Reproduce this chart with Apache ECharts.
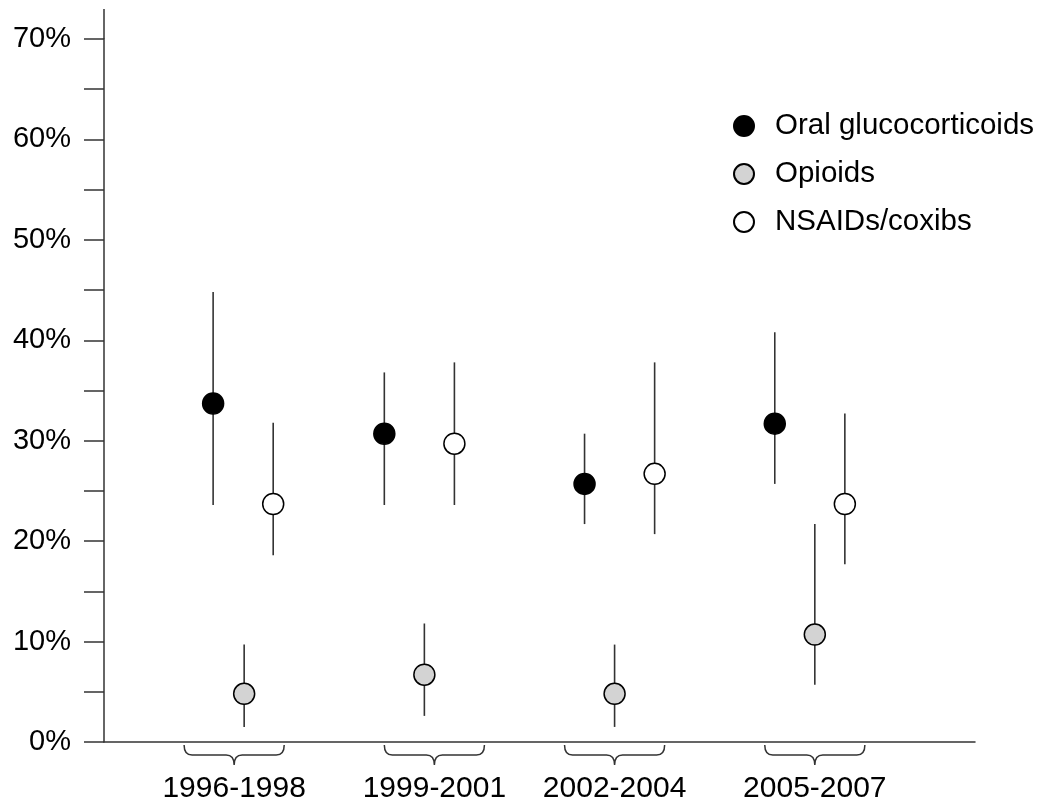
<!DOCTYPE html>
<html>
<head>
<meta charset="utf-8">
<script src="https://cdn.jsdelivr.net/npm/echarts@6/dist/echarts.min.js"></script>
<style>
html, body { margin: 0; padding: 0; background: #fff; }
#main { width: 1047px; height: 808px; }
</style>
</head>
<body>
<div id="main"></div>
<script>
// periods and where each bracket sits on the x axis
var periods = ['1996-1998', '1999-2001', '2002-2004', '2005-2007'];
var periodPos = [1.3, 3.3, 5.1, 7.1];
var bracketHalf = 0.5;

// x position of each series inside the groups
var glucoX = [1.09, 2.8, 4.8, 6.7];
var opioidX = [1.4, 3.2, 5.1, 7.1];
var nsaidX = [1.69, 3.5, 5.5, 7.4];

// percentages (point, lower, upper)
var glucoVal = [33.7, 30.7, 25.7, 31.7];
var glucoLow = [23.6, 23.6, 21.7, 25.7];
var glucoHigh = [44.8, 36.8, 30.7, 40.8];

var opioidVal = [4.8, 6.7, 4.8, 10.7];
var opioidLow = [1.5, 2.6, 1.5, 5.7];
var opioidHigh = [9.7, 11.8, 9.7, 21.7];

var nsaidVal = [23.7, 29.7, 26.7, 23.7];
var nsaidLow = [18.6, 23.6, 20.7, 17.7];
var nsaidHigh = [31.8, 37.8, 37.8, 32.7];

var FONT = '"Liberation Sans", Arial, sans-serif';

var myChart = echarts.init(document.getElementById('main'));

function pts(xs, vs) {
    return xs.map(function (x, i) { return [x, vs[i]]; });
}
function bars(xs, lo, hi) {
    return xs.map(function (x, i) { return [x, lo[i], hi[i]]; });
}

function renderBar(params, api) {
    var a = api.coord([api.value(0), api.value(1)]);
    var b = api.coord([api.value(0), api.value(2)]);
    return {
        type: 'line',
        shape: { x1: a[0], y1: a[1], x2: b[0], y2: b[1] },
        style: { stroke: '#333', lineWidth: 1.6 }
    };
}

function renderBracket(params, api) {
    var c = api.value(0);
    var p0 = api.coord([c - bracketHalf, 0]);
    var p1 = api.coord([c + bracketHalf, 0]);
    var pc = api.coord([c, 0]);
    var L = p0[0], R = p1[0], C = pc[0];
    var t = pc[1] + 3, m = pc[1] + 13, tip = pc[1] + 23;
    var path = 'M' + L + ' ' + t +
        ' Q' + L + ' ' + m + ' ' + (L + 8) + ' ' + m +
        ' L' + (C - 8) + ' ' + m +
        ' Q' + C + ' ' + m + ' ' + C + ' ' + tip +
        ' Q' + C + ' ' + m + ' ' + (C + 8) + ' ' + m +
        ' L' + (R - 8) + ' ' + m +
        ' Q' + R + ' ' + m + ' ' + R + ' ' + t;
    return {
        type: 'group',
        children: [{
            type: 'path',
            shape: { pathData: path },
            style: { stroke: '#333', lineWidth: 1.5, fill: null }
        }, {
            type: 'text',
            x: C,
            y: pc[1] + 47,
            style: {
                text: periods[params.dataIndex],
                font: '30px ' + FONT,
                fill: '#000',
                align: 'center',
                verticalAlign: 'middle'
            }
        }]
    };
}

var option = {
    animation: false,
    backgroundColor: '#fff',
    grid: { left: 104, right: 72, top: 39, bottom: 66 },
    xAxis: {
        type: 'value',
        min: 0,
        max: 8.7,
        axisLine: { lineStyle: { color: '#333', width: 1.5 } },
        axisTick: { show: false },
        axisLabel: { show: false },
        splitLine: { show: false }
    },
    yAxis: {
        type: 'value',
        min: 0,
        max: 70,
        interval: 5,
        axisLine: { show: true, lineStyle: { color: '#333', width: 1.5 } },
        axisTick: { show: true, length: 20, lineStyle: { color: '#333', width: 1.5 } },
        axisLabel: {
            margin: 33,
            fontSize: 29,
            fontFamily: FONT,
            color: '#000',
            formatter: function (v) { return v % 10 === 0 ? v + '%' : ''; }
        },
        splitLine: { show: false }
    },
    legend: {
        orient: 'vertical',
        left: 728,
        top: 106,
        itemWidth: 20,
        itemHeight: 20,
        itemGap: 18,
        icon: 'circle',
        data: ['Oral glucocorticoids', 'Opioids', 'NSAIDs/coxibs'],
        textStyle: { fontSize: 29.5, fontFamily: FONT, color: '#000', padding: [0, 0, 0, 16] }
    },
    graphic: [{
        type: 'line',
        shape: { x1: 104, y1: 9, x2: 104, y2: 39 },
        style: { stroke: '#333', lineWidth: 1.5 }
    }],
    series: [
        { type: 'custom', renderItem: renderBar, data: bars(glucoX, glucoLow, glucoHigh), z: 1, silent: true },
        { type: 'custom', renderItem: renderBar, data: bars(opioidX, opioidLow, opioidHigh), z: 1, silent: true },
        { type: 'custom', renderItem: renderBar, data: bars(nsaidX, nsaidLow, nsaidHigh), z: 1, silent: true },
        {
            name: 'Oral glucocorticoids', type: 'scatter', symbolSize: 21, z: 3,
            itemStyle: { color: '#000', borderColor: '#000', borderWidth: 1.5, opacity: 1 },
            data: pts(glucoX, glucoVal)
        },
        {
            name: 'Opioids', type: 'scatter', symbolSize: 21, z: 3,
            itemStyle: { color: '#d3d3d3', borderColor: '#000', borderWidth: 1.5, opacity: 1 },
            data: pts(opioidX, opioidVal)
        },
        {
            name: 'NSAIDs/coxibs', type: 'scatter', symbolSize: 21, z: 3,
            itemStyle: { color: '#fff', borderColor: '#000', borderWidth: 1.5, opacity: 1 },
            data: pts(nsaidX, nsaidVal)
        },
        {
            type: 'custom', renderItem: renderBracket, clip: false, silent: true,
            data: periodPos.map(function (p) { return [p]; })
        }
    ]
};

myChart.setOption(option);
</script>
</body>
</html>
